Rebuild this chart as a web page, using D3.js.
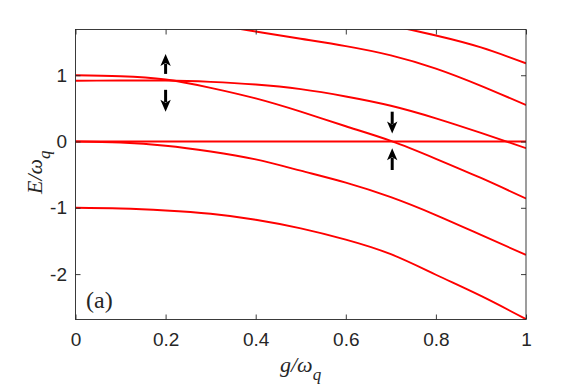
<!DOCTYPE html>
<html><head><meta charset="utf-8">
<script src="https://cdn.jsdelivr.net/npm/d3@7"></script>
<style>body{margin:0;background:#fff}svg{display:block}
.tick text{font-family:"Liberation Sans",Arial,Helvetica,sans-serif !important;font-size:19px !important;}
</style>
</head><body>
<svg id="c" width="581" height="388"></svg>
<script>
// ---- data ----
const gGrid = [0, 0.1, 0.2, 0.3, 0.4, 0.5, 0.6, 0.7, 0.8, 0.9, 1.0];
const levelFlat = [0, 0, 0, 0, 0, 0, 0, 0, 0, 0, 0];
const levelA = [1.0, 0.985, 0.935, 0.81, 0.65, 0.45, 0.23, 0.01, -0.26, -0.55, -0.86];
const levelB = [0.917, 0.92, 0.92, 0.90, 0.86, 0.79, 0.68, 0.54, 0.35, 0.13, -0.10];
const levelC = [0, -0.015, -0.063, -0.15, -0.27, -0.44, -0.62, -0.84, -1.11, -1.41, -1.71];
const levelF = [-1.0, -1.01, -1.04, -1.09, -1.18, -1.31, -1.48, -1.70, -2.01, -2.33, -2.68];
const gD = [0.3, 0.4, 0.5, 0.6, 0.7, 0.8, 0.9, 1.0];
const levelD = [1.77, 1.66, 1.55, 1.44, 1.30, 1.10, 0.84, 0.55];
const gE = [0.7, 0.8, 0.9, 1.0];
const levelE = [1.75, 1.60, 1.42, 1.18];
// arrows: [g, E from, E to]
const arrows = [[0.2, 1.02, 1.32], [0.2, 0.78, 0.45], [0.703, 0.45, 0.12], [0.703, -0.43, -0.10]];
const xTicks = [0, 0.2, 0.4, 0.6, 0.8, 1];
const xTickLabels = ["0", "0.2", "0.4", "0.6", "0.8", "1"];
const yTicks = [-2, -1, 0, 1];
const yTickLabels = ["-2", "-1", "0", "1"];

// ---- layout ----
const L = 75.5, R = 526, T = 29.5, B = 319.5;
const x = d3.scaleLinear().domain([0, 1]).range([L, R]);
const y = d3.scaleLinear().domain([-2.685, 1.69]).range([B, T]);
const svg = d3.select("#c");
const axisColor = "#262626";

svg.append("clipPath").attr("id", "clip").append("rect")
  .attr("x", L).attr("y", T).attr("width", R - L).attr("height", B - T);

const line = d3.line().x(d => x(d[0])).y(d => y(d[1])).curve(d3.curveNatural);
const series = [
  [gGrid, levelFlat], [gGrid, levelA], [gGrid, levelB], [gGrid, levelC],
  [gGrid, levelF], [gD, levelD], [gE, levelE]
];
const gl = svg.append("g").attr("clip-path", "url(#clip)");
series.forEach(([gs, es]) => {
  gl.append("path").datum(gs.map((g, i) => [g, es[i]]))
    .attr("d", line).attr("fill", "none").attr("stroke", "#ff0000").attr("stroke-width", 1.9);
});

// axes
const ax = svg.append("g");
function axisStyle(g) {
  g.select(".domain").remove();
  g.selectAll("line").attr("stroke", axisColor).attr("stroke-width", 0.9);
  g.selectAll("text").attr("fill", axisColor);
}
const xb = ax.append("g").attr("transform", `translate(0,${B})`)
  .call(d3.axisBottom(x).tickValues(xTicks).tickFormat((d, i) => xTickLabels[i]).tickSizeInner(-5).tickSizeOuter(0));
axisStyle(xb);
xb.selectAll("text").attr("dy", null).attr("y", 26);
const xt = ax.append("g").attr("transform", `translate(0,${T})`)
  .call(d3.axisTop(x).tickValues(xTicks).tickFormat("").tickSizeInner(-5).tickSizeOuter(0));
axisStyle(xt);
const yl = ax.append("g").attr("transform", `translate(${L},0)`)
  .call(d3.axisLeft(y).tickValues(yTicks).tickFormat((d, i) => yTickLabels[i]).tickSizeInner(-5).tickSizeOuter(0));
axisStyle(yl);
yl.selectAll("text").attr("x", -8.5);
const yr = ax.append("g").attr("transform", `translate(${R},0)`)
  .call(d3.axisRight(y).tickValues(yTicks).tickFormat("").tickSizeInner(-5).tickSizeOuter(0));
axisStyle(yr);
// box
ax.append("rect").attr("x", L).attr("y", T).attr("width", R - L).attr("height", B - T)
  .attr("fill", "none").attr("stroke", axisColor).attr("stroke-width", 0.9);

// arrows
arrows.forEach(([g, e0, e1]) => {
  const px = x(g), y0 = y(e0), y1 = y(e1);
  const dir = y1 < y0 ? -1 : 1;
  const head = 12, hw = 5.2;
  svg.append("line").attr("x1", px).attr("x2", px).attr("y1", y0).attr("y2", y1 - dir * head * 0.8)
    .attr("stroke", "#000").attr("stroke-width", 3);
  svg.append("path")
    .attr("d", `M${px},${y1} L${px - hw},${y1 - dir * head} L${px},${y1 - dir * head * 0.75} L${px + hw},${y1 - dir * head} Z`)
    .attr("fill", "#000");
});

// labels
const serif = "'Liberation Serif', 'Times New Roman', serif";
const xlab = svg.append("text").attr("x", 280).attr("y", 372)
  .style("font-family", serif).style("font-style", "italic").style("font-size", "22px").attr("fill", axisColor);
xlab.append("tspan").text("g/ω");
xlab.append("tspan").attr("dy", 8).style("font-size", "17px").text("q");

const ylab = svg.append("text").attr("transform", "translate(42,194) rotate(-90)")
  .style("font-family", serif).style("font-style", "italic").style("font-size", "22px").attr("fill", axisColor);
ylab.append("tspan").text("E/ω");
ylab.append("tspan").attr("dy", 8).style("font-size", "17px").text("q");

svg.append("text").attr("x", 86).attr("y", 308).text("(a)")
  .style("font-family", serif).style("font-size", "24px").attr("fill", axisColor);
</script>
</body></html>
